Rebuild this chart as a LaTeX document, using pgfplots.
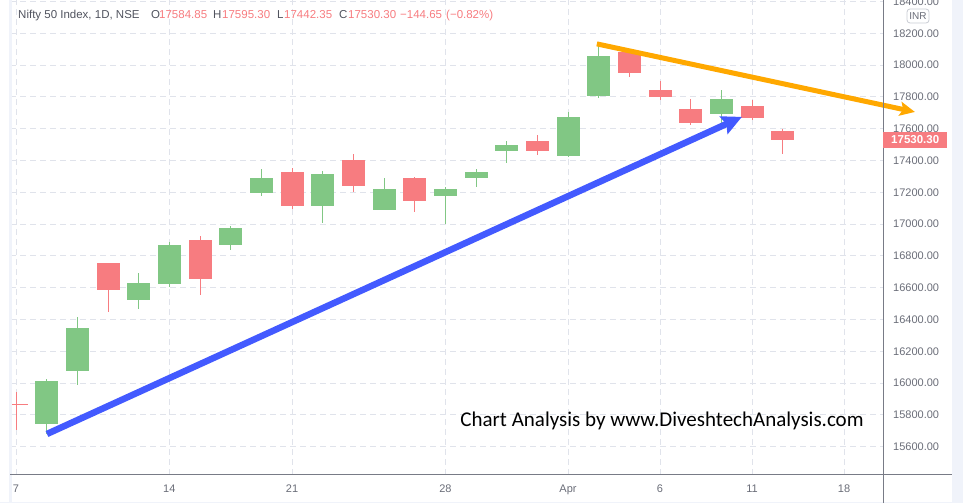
\documentclass[border=0pt]{standalone}
\usepackage{fontspec}
\setmainfont{Liberation Sans}
\newfontfamily\wmfont{Carlito}
\usepackage{pgfplots}
\usepackage{pgfplotstable}
\pgfplotsset{compat=1.18}
\usetikzlibrary{arrows.meta}

\definecolor{upg}{HTML}{81C784}
\definecolor{dnr}{HTML}{F77C80}
\definecolor{gridc}{HTML}{E0E3EB}
\definecolor{boxc}{HTML}{C9CCD4}
\definecolor{txtg}{HTML}{6A6D78}
\definecolor{titleg}{HTML}{50535E}
\definecolor{axg}{HTML}{787B86}
\definecolor{arrb}{HTML}{435AFF}
\definecolor{arro}{HTML}{FFA800}
\definecolor{framec}{HTML}{F0F3FA}

% trading day index, open, high, low, close
\pgfplotstableread{
i o h l c
1 15745 16028 15680 16013
2 16078 16418 15990 16345
4 16525 16693 16468 16630
5 16625 16889 16606 16869
7 16871 16988 16839 16976
8 17198 17347 17179 17290
10 17116 17334 17009 17315
12 17091 17290 17091 17221
14 17179 17233 17003 17221
15 17292 17347 17235 17328
16 17460 17523 17386 17498
18 17430 17705 17422 17674
19 17808 18126 17795 18057
23 17694 17843 17638 17787
}\upcandles

\pgfplotstableread{
i o h l c
0 15866 15944 15705 15860
3 16755 16757 16449 16587
6 16900 16925 16556 16657
9 17328 17353 17097 17116
11 17403 17441 17204 17242
13 17290 17296 17078 17147
17 17523 17560 17437 17462
20 18082 18095 17927 17952
21 17843 17900 17781 17801
22 17724 17787 17625 17638
24 17743 17781 17657 17669
25 17584.85 17595.30 17442.35 17530.30
}\downcandles

\begin{document}
\begin{tikzpicture}
\path[use as bounding box] (-10pt,-28pt) rectangle (953pt,475pt);
\begin{axis}[
  at={(0,0)}, anchor=south west,
  scale only axis, width=873pt, height=475pt,
  xmin=-0.196, xmax=28.27, ymin=15422, ymax=18409,
  clip=false,
  axis line style={draw=none},
  major tick length=0pt,
  xtick={0,5,9,14,18,21,24,27},
  xticklabels={7,14,21,28,Apr,6,11,18},
  ytick={15600,15800,...,18400},
  yticklabels={15600.00,15800.00,16000.00,16200.00,16400.00,16600.00,16800.00,17000.00,17200.00,17400.00,17600.00,17800.00,18000.00,18200.00,18400.00},
  yticklabel pos=right,
  grid=major,
  grid style={gridc, line width=1pt, dash pattern=on 6pt off 4pt},
  tick label style={font=\fontsize{11}{13}\selectfont, text=txtg},
  xticklabel style={anchor=base, yshift=-17.7pt},
  yticklabel style={anchor=west, inner sep=0pt, xshift=10pt},
]
% wicks
\addplot[draw=none, mark=none, forget plot,
  error bars/.cd, y dir=plus, y explicit, error mark=none,
  error bar style={line width=1pt, draw=upg, solid}]
  table[x=i, y=l, y error expr=\thisrow{h}-\thisrow{l}] {\upcandles};
\addplot[draw=none, mark=none, forget plot,
  error bars/.cd, y dir=plus, y explicit, error mark=none,
  error bar style={line width=1pt, draw=dnr, solid}]
  table[x=i, y=l, y error expr=\thisrow{h}-\thisrow{l}] {\downcandles};
% bodies
\addplot[draw=none, mark=none, forget plot,
  error bars/.cd, y dir=plus, y explicit, error mark=none,
  error bar style={line width=23pt, draw=upg, solid}]
  table[x=i, y=o, y error expr=\thisrow{c}-\thisrow{o}] {\upcandles};
\addplot[draw=none, mark=none, forget plot,
  error bars/.cd, y dir=plus, y explicit, error mark=none,
  error bar style={line width=23pt, draw=dnr, solid}]
  table[x=i, y=c, y error expr=\thisrow{o}-\thisrow{c}] {\downcandles};
% trend arrows
\addplot[arrb, line width=6.5pt, -{Stealth[length=20pt, width=19pt, inset=3pt]}]
  coordinates {(1.01,15680) (23.67,17674)};
\addplot[arro, line width=5pt, -{Stealth[length=15pt, width=14pt, inset=3pt]}]
  coordinates {(18.94,18133) (29.31,17705)};
\coordinate (pricelbl) at (axis cs:28.27,17530.3);
\end{axis}

% frame and axis lines
\fill[white] (-10pt,-28pt) rectangle (0pt,475pt);
\fill[framec] (-1pt,-28pt) rectangle (1.5pt,475pt);
\fill[framec] (942pt,-28pt) rectangle (953pt,475pt);
\fill[framec] (-10pt,-28pt) rectangle (953pt,-26.5pt);
\draw[axg, line width=1pt] (0pt,0pt) -- (942pt,0pt);
\draw[axg, line width=1pt] (873pt,-28pt) -- (873pt,475pt);

% last price tag
\node[fill=dnr, text=white, font=\bfseries\fontsize{11.5}{13}\selectfont,
  anchor=west, minimum width=64pt, minimum height=16pt, inner sep=0pt]
  at (pricelbl) {17530.30};

% currency box
\node[draw=boxc, line width=0.8pt, fill=white, rounded corners=3pt, text=txtg,
  font=\fontsize{10}{12}\selectfont, minimum width=22pt, minimum height=14pt, inner sep=0pt]
  at (908pt,459pt) {INR};

% legend line at the top
\begin{scope}[every node/.style={anchor=base west, inner sep=0pt, font=\fontsize{11.5}{13}\selectfont}]
\node[text=titleg] at (8pt,456.7pt) {Nifty 50 Index, 1D, NSE};
\node[text=titleg] at (141pt,456.7pt) {O};
\node[text=dnr] at (149pt,456.7pt) {17584.85};
\node[text=titleg] at (203pt,456.7pt) {H};
\node[text=dnr] at (212pt,456.7pt) {17595.30};
\node[text=titleg] at (267pt,456.7pt) {L};
\node[text=dnr] at (274pt,456.7pt) {17442.35};
\node[text=titleg] at (329pt,456.7pt) {C};
\node[text=dnr] at (338pt,456.7pt) {17530.30};
\node[text=dnr] at (390pt,456.7pt) {−144.65};
\node[text=dnr] at (436pt,456.7pt) {(−0.82\%)};
\end{scope}

% watermark
\node[anchor=base, inner sep=0pt, font=\wmfont\fontsize{21}{25}\selectfont]
  at (652pt,48pt) {Chart Analysis by www.DiveshtechAnalysis.com};
\end{tikzpicture}
\end{document}
